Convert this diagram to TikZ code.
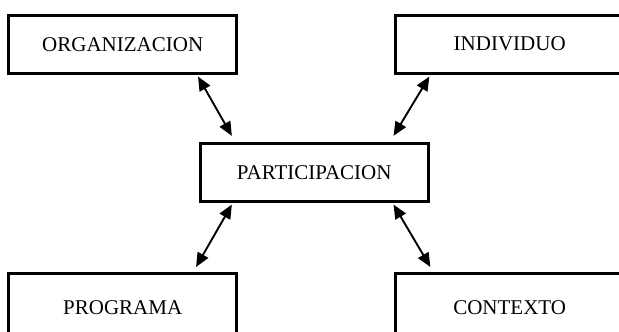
\documentclass[tikz,border=0pt]{standalone}
\usepackage{fontspec}
\setmainfont{Liberation Serif}
\usetikzlibrary{arrows.meta}
\begin{document}
\begin{tikzpicture}[x=1pt,y=-1pt,
  box/.style={draw,line width=2.7pt,minimum width=228pt,minimum height=58pt,inner sep=0pt,
    font=\fontsize{21}{24}\selectfont},
  link/.style={line width=1.9pt,{Triangle[length=14pt,width=12pt]}-{Triangle[length=14pt,width=12pt]}}]
\useasboundingbox (0,0) rectangle (619,332);
\clip (0,0) rectangle (619,332);
\fill[white] (0,0) rectangle (619,332);
\node[box] (org) at (122.7,44.2) {ORGANIZACION};
\node[box] (ind) at (509.7,44.2) {INDIVIDUO};
\node[box] (part) at (314.2,172.2) {PARTICIPACION};
\node[box,minimum height=69pt] (prog) at (122.7,307.8) {PROGRAMA};
\node[box,minimum height=69pt] (ctx) at (509.7,307.8) {CONTEXTO};
\draw[link] ([xshift=-40pt,yshift=-2pt]org.south east) -- ([xshift=33pt,yshift=6pt]part.north west);
\draw[link] ([xshift=35pt,yshift=-2pt]ind.south west) -- ([xshift=-36pt,yshift=6pt]part.north east);
\draw[link] ([xshift=33pt,yshift=-2pt]part.south west) -- ([xshift=-42pt,yshift=5pt]prog.north east);
\draw[link] ([xshift=-36pt,yshift=-2pt]part.south east) -- ([xshift=36pt,yshift=5pt]ctx.north west);
\end{tikzpicture}
\end{document}
